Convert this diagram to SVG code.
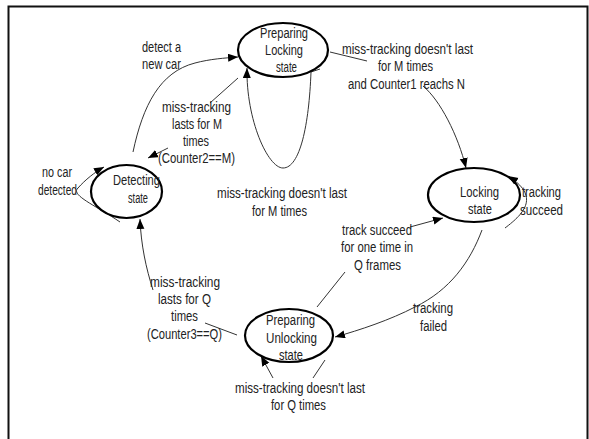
<svg xmlns="http://www.w3.org/2000/svg" width="589" height="439" viewBox="0 0 589 439">
<style>
.t{font-family:"Liberation Sans",Arial,sans-serif;font-size:15.5px;fill:#222}
.c{fill:none;stroke:#333;stroke-width:1}
.n{fill:none;stroke:#000;stroke-width:2.2}
.fr{fill:none;stroke:#111;stroke-width:2}
</style>
<defs>
<marker id="ah" markerUnits="userSpaceOnUse" markerWidth="11" markerHeight="9" refX="10" refY="4" orient="auto" viewBox="0 0 11 9">
<path d="M0,0 L10,4 L0,8 z" fill="#000"/>
</marker>
</defs>
<rect width="589" height="439" fill="#fff"/>
<path class="fr" d="M8.5,439 V6.5 H587.5 V439"/>
<g id="connectors">
<path class="c" d="M133,152 C143,105 160,72 195,63 C210,59 225,58 238,57" marker-end="url(#ah)"/>
<path class="c" d="M238,78 L210,103"/>
<path class="c" d="M168,148 L148,158" marker-end="url(#ah)"/>
<path class="c" d="M320,69 L311,72 C309,125 300,168 283,168 C268,168 246,120 247,68" marker-end="url(#ah)"/>
<path class="c" d="M330,52 L367,61"/>
<path class="c" d="M423,86 C440,100 458,135 466,168" marker-end="url(#ah)"/>
<path class="c" d="M505,228 C525,213 540,196 508,176" marker-end="url(#ah)"/>
<path class="c" d="M482,230 C470,262 450,290 415,307 C390,320 360,330 335,337" marker-end="url(#ah)"/>
<path class="c" d="M317,307 L345,272"/>
<path class="c" d="M410,227 L443,218" marker-end="url(#ah)"/>
<path class="c" d="M237,335 L205,323"/>
<path class="c" d="M153,290 C146,268 141,245 140,219" marker-end="url(#ah)"/>
<path class="c" d="M120,222 C95,205 70,195 78,188 C85,180 95,172 104,167" marker-end="url(#ah)"/>
<path class="c" d="M325,360 L313,378"/>
<path class="c" d="M273,378 L261,356" marker-end="url(#ah)"/>
</g>
<g id="labels">
<text class="t" x="142" y="52" textLength="39" lengthAdjust="spacingAndGlyphs">detect a</text>
<text class="t" x="142" y="69" textLength="39" lengthAdjust="spacingAndGlyphs">new car</text>
<text class="t" x="162" y="112" textLength="69" lengthAdjust="spacingAndGlyphs">miss-tracking</text>
<text class="t" x="172" y="129" textLength="50" lengthAdjust="spacingAndGlyphs">lasts for M</text>
<text class="t" x="183" y="146" textLength="26" lengthAdjust="spacingAndGlyphs">times</text>
<text class="t" x="158" y="163" textLength="77" lengthAdjust="spacingAndGlyphs">(Counter2==M)</text>
<text class="t" x="42" y="177" textLength="30" lengthAdjust="spacingAndGlyphs">no car</text>
<text class="t" x="38" y="195" textLength="39" lengthAdjust="spacingAndGlyphs">detected</text>
<text class="t" x="217" y="198" textLength="130" lengthAdjust="spacingAndGlyphs">miss-tracking doesn't last</text>
<text class="t" x="252" y="216" textLength="55" lengthAdjust="spacingAndGlyphs">for M times</text>
<text class="t" x="342" y="54" textLength="131" lengthAdjust="spacingAndGlyphs">miss-tracking doesn't last</text>
<text class="t" x="378" y="71" textLength="55" lengthAdjust="spacingAndGlyphs">for M times</text>
<text class="t" x="348" y="89" textLength="117" lengthAdjust="spacingAndGlyphs">and Counter1 reachs N</text>
<text class="t" x="522" y="197" textLength="39" lengthAdjust="spacingAndGlyphs">tracking</text>
<text class="t" x="520" y="215" textLength="43" lengthAdjust="spacingAndGlyphs">succeed</text>
<text class="t" x="342" y="235" textLength="70" lengthAdjust="spacingAndGlyphs">track succeed</text>
<text class="t" x="341" y="252" textLength="72" lengthAdjust="spacingAndGlyphs">for one time in</text>
<text class="t" x="354" y="270" textLength="47" lengthAdjust="spacingAndGlyphs">Q frames</text>
<text class="t" x="413" y="313" textLength="40" lengthAdjust="spacingAndGlyphs">tracking</text>
<text class="t" x="420" y="331" textLength="27" lengthAdjust="spacingAndGlyphs">failed</text>
<text class="t" x="150" y="287" textLength="70" lengthAdjust="spacingAndGlyphs">miss-tracking</text>
<text class="t" x="158" y="304" textLength="53" lengthAdjust="spacingAndGlyphs">lasts for Q</text>
<text class="t" x="171" y="321" textLength="27" lengthAdjust="spacingAndGlyphs">times</text>
<text class="t" x="147" y="339" textLength="75" lengthAdjust="spacingAndGlyphs">(Counter3==Q)</text>
<text class="t" x="235" y="393" textLength="130" lengthAdjust="spacingAndGlyphs">miss-tracking doesn't last</text>
<text class="t" x="271" y="410" textLength="55" lengthAdjust="spacingAndGlyphs">for Q times</text>
</g>
<g id="preparing-locking">
<ellipse class="n" cx="283" cy="50" rx="45" ry="27"/>
<text class="t" x="260" y="38" textLength="48" lengthAdjust="spacingAndGlyphs">Preparing</text>
<text class="t" x="265" y="55" textLength="38" lengthAdjust="spacingAndGlyphs">Locking</text>
<text class="t" x="276" y="72" textLength="21" lengthAdjust="spacingAndGlyphs">state</text>
</g>
<g id="detecting">
<ellipse class="n" cx="126.5" cy="191.5" rx="35.5" ry="26.5"/>
<text class="t" x="113" y="185" textLength="47" lengthAdjust="spacingAndGlyphs">Detecting</text>
<text class="t" x="128" y="203" textLength="20" lengthAdjust="spacingAndGlyphs">state</text>
</g>
<g id="locking">
<ellipse class="n" cx="474" cy="195" rx="46" ry="27"/>
<text class="t" x="460" y="197" textLength="39" lengthAdjust="spacingAndGlyphs">Locking</text>
<text class="t" x="468" y="214" textLength="24" lengthAdjust="spacingAndGlyphs">state</text>
</g>
<g id="preparing-unlocking">
<ellipse class="n" cx="289" cy="335.5" rx="44" ry="26.5"/>
<text class="t" x="266" y="325" textLength="49" lengthAdjust="spacingAndGlyphs">Preparing</text>
<text class="t" x="266" y="343" textLength="51" lengthAdjust="spacingAndGlyphs">Unlocking</text>
<text class="t" x="279" y="360" textLength="24" lengthAdjust="spacingAndGlyphs">state</text>
</g>
</svg>
